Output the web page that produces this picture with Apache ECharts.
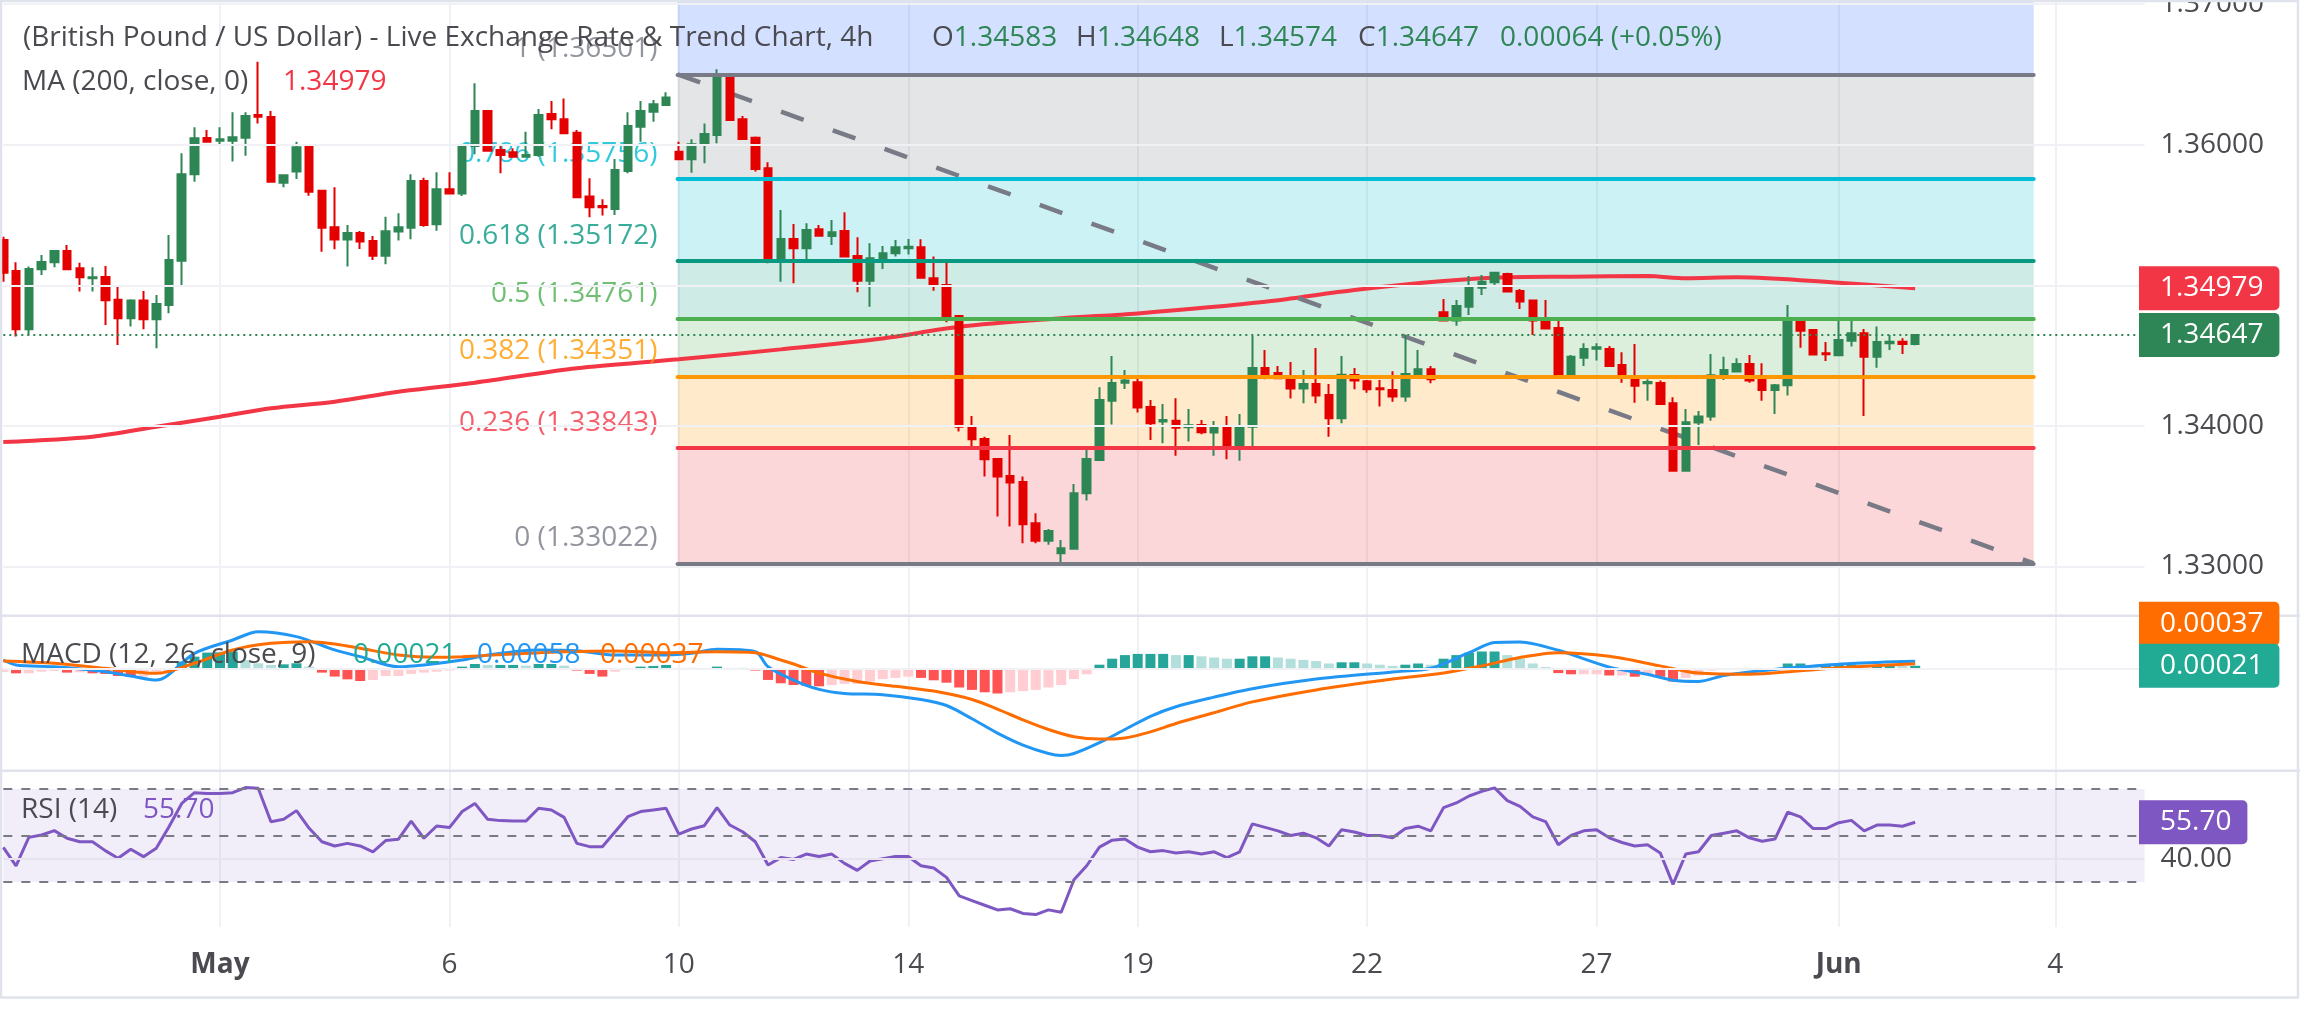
<!DOCTYPE html>
<html>
<head>
<meta charset="utf-8">
<script src="https://cdn.jsdelivr.net/npm/echarts@6/dist/echarts.min.js"></script>
<style>
  html, body { margin: 0; padding: 0; background: #fff; }
  #chart { width: 2300px; height: 1030px; }
</style>
</head>
<body>
<div id="chart"></div>
<script>
// ---- data ----
const slotCount = 169; // bars + empty space on the right
const dateIdx = [17, 35, 53, 71, 89, 107, 125, 144, 161];
const dateText = ['May', '6', '10', '14', '19', '22', '27', 'Jun', '4'];

const opens = [1.35322,1.35102,1.34687,1.35114,1.35164,1.35244,1.35121,1.35050,1.35059,1.34898,1.34765,1.34891,1.34758,1.34860,1.35175,1.35790,1.36048,1.36029,1.36029,1.36050,1.36212,1.36198,1.35730,1.35809,1.35984,1.35673,1.35413,1.35325,1.35372,1.35315,1.35211,1.35382,1.35410,1.35742,1.35434,1.35683,1.35654,1.35991,1.36240,1.35963,1.35946,1.35915,1.35927,1.36219,1.36181,1.36086,1.35631,1.35564,1.35543,1.35813,1.36129,1.36235,1.36283,1.35951,1.35896,1.35998,1.36069,1.36503,1.36181,1.36050,1.35832,1.35180,1.35330,1.35263,1.35398,1.35351,1.35386,1.35209,1.35033,1.35187,1.35228,1.35263,1.35270,1.35050,1.35002,1.34782,1.33999,1.33907,1.33764,1.33643,1.33601,1.33307,1.33183,1.33093,1.33126,1.33520,1.33757,1.34179,1.34307,1.34310,1.34134,1.34030,1.34037,1.33990,1.34006,1.33952,1.33999,1.33852,1.33994,1.34412,1.34376,1.34341,1.34265,1.34298,1.34220,1.34054,1.34362,1.34317,1.34267,1.34255,1.34208,1.34364,1.34402,1.34808,1.34749,1.34848,1.34983,1.35021,1.35081,1.34960,1.34891,1.34753,1.34696,1.34355,1.34485,1.34549,1.34547,1.34433,1.34345,1.34303,1.34305,1.34160,1.33681,1.34023,1.34066,1.34360,1.34386,1.34440,1.34326,1.34255,1.34288,1.34749,1.34682,1.34516,1.34502,1.34606,1.34658,1.34492,1.34587,1.34599,1.34583];
const highs = [1.35346,1.35164,1.35133,1.35216,1.35251,1.35287,1.35161,1.35128,1.35137,1.34995,1.34900,1.34960,1.34931,1.35358,1.35939,1.36124,1.36105,1.36124,1.36231,1.36231,1.36591,1.36240,1.35790,1.36022,1.35998,1.35678,1.35697,1.35429,1.35386,1.35351,1.35488,1.35512,1.35790,1.35766,1.35804,1.35804,1.35998,1.36437,1.36247,1.35998,1.35975,1.36093,1.36254,1.36311,1.36330,1.36105,1.35761,1.35612,1.35899,1.36231,1.36311,1.36318,1.36373,1.36022,1.36039,1.36152,1.36537,1.36510,1.36205,1.36058,1.35875,1.35536,1.35436,1.35441,1.35429,1.35465,1.35519,1.35341,1.35299,1.35280,1.35322,1.35330,1.35327,1.35204,1.35185,1.34789,1.34070,1.33923,1.33764,1.33935,1.33639,1.33378,1.33266,1.33188,1.33586,1.33845,1.34274,1.34497,1.34398,1.34345,1.34184,1.34156,1.34196,1.34120,1.34042,1.34035,1.34070,1.34085,1.34639,1.34540,1.34426,1.34454,1.34398,1.34554,1.34298,1.34497,1.34412,1.34326,1.34326,1.34388,1.34644,1.34540,1.34426,1.34903,1.34896,1.35066,1.35073,1.35097,1.35090,1.34974,1.34896,1.34896,1.34753,1.34504,1.34587,1.34587,1.34568,1.34523,1.34583,1.34331,1.34322,1.34203,1.34120,1.34106,1.34511,1.34492,1.34481,1.34504,1.34445,1.34298,1.34860,1.34758,1.34682,1.34597,1.34765,1.34753,1.34689,1.34706,1.34647,1.34623,1.34648];
const lows = [1.35026,1.34635,1.34647,1.35073,1.35128,1.35109,1.34955,1.34955,1.34718,1.34575,1.34706,1.34687,1.34552,1.34801,1.34990,1.35737,1.36015,1.35998,1.35880,1.35922,1.36152,1.35737,1.35697,1.35756,1.35638,1.35239,1.35256,1.35133,1.35258,1.35180,1.35149,1.35318,1.35327,1.35417,1.35389,1.35647,1.35635,1.35932,1.35951,1.35797,1.35911,1.35911,1.35915,1.36110,1.36077,1.35626,1.35484,1.35496,1.35500,1.35797,1.36022,1.36164,1.36278,1.35892,1.35801,1.35868,1.36010,1.36170,1.36034,1.35809,1.35156,1.35026,1.35014,1.35164,1.35353,1.35287,1.35204,1.34950,1.34848,1.35116,1.35204,1.35220,1.35054,1.34962,1.34737,1.33959,1.33852,1.33639,1.33354,1.33283,1.33164,1.33164,1.33153,1.33022,1.33126,1.33468,1.33752,1.34009,1.34262,1.34094,1.33900,1.33876,1.33788,1.33888,1.33940,1.33788,1.33762,1.33752,1.33840,1.34331,1.34331,1.34194,1.34160,1.34160,1.33923,1.34018,1.34260,1.34236,1.34137,1.34172,1.34172,1.34343,1.34303,1.34749,1.34713,1.34789,1.34931,1.34995,1.34955,1.34832,1.34647,1.34692,1.34350,1.34350,1.34426,1.34464,1.34419,1.34307,1.34165,1.34179,1.34151,1.33681,1.33674,1.33864,1.34037,1.34326,1.34386,1.34307,1.34179,1.34085,1.34215,1.34556,1.34507,1.34462,1.34502,1.34564,1.34070,1.34414,1.34540,1.34511,1.34574];
const closes = [1.35090,1.34687,1.35116,1.35166,1.35244,1.35114,1.35057,1.35057,1.34893,1.34765,1.34891,1.34758,1.34867,1.35180,1.35790,1.36046,1.36022,1.36039,1.36053,1.36205,1.36200,1.35737,1.35783,1.35982,1.35666,1.35410,1.35325,1.35372,1.35311,1.35211,1.35384,1.35413,1.35742,1.35429,1.35683,1.35654,1.35994,1.36240,1.35958,1.35927,1.35915,1.35927,1.36212,1.36181,1.36081,1.35626,1.35555,1.35555,1.35820,1.36133,1.36240,1.36288,1.36337,1.35896,1.36003,1.36077,1.36503,1.36176,1.36041,1.35828,1.35180,1.35330,1.35263,1.35394,1.35353,1.35377,1.35204,1.35033,1.35192,1.35228,1.35270,1.35275,1.35054,1.34998,1.34777,1.33994,1.33904,1.33762,1.33639,1.33596,1.33300,1.33183,1.33252,1.33129,1.33520,1.33764,1.34184,1.34305,1.34322,1.34130,1.34018,1.34042,1.33987,1.34004,1.33954,1.33999,1.33852,1.33999,1.34412,1.34369,1.34338,1.34265,1.34298,1.34215,1.34054,1.34364,1.34322,1.34260,1.34260,1.34208,1.34369,1.34402,1.34331,1.34749,1.34853,1.34986,1.35026,1.35090,1.34955,1.34884,1.34749,1.34692,1.34355,1.34492,1.34547,1.34559,1.34426,1.34343,1.34286,1.34312,1.34156,1.33681,1.34025,1.34066,1.34360,1.34398,1.34440,1.34322,1.34255,1.34288,1.34749,1.34677,1.34507,1.34509,1.34611,1.34658,1.34492,1.34597,1.34599,1.34583,1.34647];

// MA 200 read at sample bars
const maIdx = [0, 7, 12, 17, 21, 26, 31, 37, 45, 53, 61, 69, 75, 83, 89, 99, 106, 113, 118, 123, 129, 132, 136, 144, 150];
const maVal = [1.33885,1.33923,1.33994,1.34065,1.34125,1.34172,1.34243,1.34307,1.34409,1.34473,1.34544,1.34622,1.34705,1.34765,1.34800,1.34883,1.34966,1.35030,1.35057,1.35061,1.35066,1.35050,1.35057,1.35018,1.34979];

// fibonacci retracement
const fibRatios = [1.618, 1, 0.786, 0.618, 0.5, 0.382, 0.236, 0];
const fibPrices = [1.38651, 1.36501, 1.35756, 1.35172, 1.34761, 1.34351, 1.33843, 1.33022];
const fibStart = 52.9, fibEnd = 159.3;

// MACD (12, 26, close, 9)
const macdIdx = [0,1,4,8,10,12,15,18,20,23,26,28,31,33,36,38,42,45,48,52,54,56,59,60,62,64,66,69,72,74,76,78,80,82,83,84,86,88,90,92,95,98,103,109,112,115,117,119,122,126,129,131,133,135,138,141,145,150];
const macdVal = [0.00069,0.00028,0.00013,-0.00028,-0.00064,-0.00098,0.00125,0.00236,0.00305,0.00264,0.00153,0.00097,0.00013,0.00028,0.00069,0.00111,0.00153,0.00147,0.00111,0.00111,0.00125,0.00158,0.00138,0.00013,-0.00098,-0.00176,-0.0021,-0.0022,-0.0026,-0.0031,-0.0042,-0.0054,-0.0064,-0.0071,-0.00726,-0.0071,-0.0062,-0.0051,-0.0040,-0.0032,-0.0024,-0.0017,-0.0009,-0.0003,0.0000,0.0013,0.00215,0.0022,0.0015,0.0001,-0.0005,-0.0010,-0.0011,-0.0006,-0.0002,0.0001,0.0004,0.00058];
const signalIdx = [0,4,8,12,15,18,21,24,26,28,31,34,36,40,44,48,52,56,59,61,62,64,67,70,73,76,78,80,82,84,86,88,90,92,95,98,103,109,113,116,119,122,126,130,133,137,141,145,150];
const signalVal = [0.00061,0.00042,0,-0.00042,0.00042,0.00153,0.00208,0.00222,0.00203,0.00167,0.00111,0.00092,0.00097,0.00119,0.00138,0.00144,0.0013,0.00138,0.0013,0.00069,0.00036,-0.0004,-0.0011,-0.0015,-0.0019,-0.0026,-0.0034,-0.0043,-0.0051,-0.0057,-0.0059,-0.0058,-0.0053,-0.0046,-0.0037,-0.0028,-0.0018,-0.0009,-0.0004,0.0002,0.0009,0.0013,0.0010,0.0002,-0.0004,-0.0005,-0.0002,0.0001,0.00037];
const histVal = [-0.0003,-0.00042,-0.00042,-0.00028,-0.00022,-0.00036,-0.00033,-0.00042,-0.00047,-0.00064,-0.00069,-0.00069,-0.00028,-0.00022,0.00056,0.00097,0.00131,0.00133,0.00139,0.00069,0.00042,0.00028,0.00033,0.00042,0.00014,-0.00036,-0.00069,-0.00092,-0.00106,-0.00097,-0.00064,-0.00064,-0.00047,-0.00036,-0.00028,-0.00019,0.00014,0.00036,0.00028,0.00028,0.00028,0.00022,0.00036,0.00036,0.00022,-0.00019,-0.00047,-0.00069,-0.00028,-0.00014,0.00014,0.00019,0.00028,0.00003,0.00003,-0.00014,0.00014,0.00003,0.00003,-0.00019,-0.00097,-0.00125,-0.00139,
  -0.00145,-0.0015,-0.0014,-0.0013,-0.0013,-0.0011,-0.0009,-0.0008,-0.0007,-0.0008,-0.001,-0.0012,-0.0016,-0.0018,-0.0020,-0.0021,-0.0020,-0.0019,-0.0018,-0.0016,-0.0014,-0.0009,-0.0005,0.0003,0.0008,0.0011,0.0012,0.0012,0.0012,0.0011,0.0011,0.001,0.0009,0.0008,0.0008,0.001,0.001,0.0009,0.0008,0.0007,0.0006,0.0004,0.0005,0.0005,0.0004,0.0003,0.0002,0.0003,0.0004,0.0003,0.0008,0.0011,0.0013,0.0014,0.0014,0.0011,0.0008,0.0004,0.0001,-0.0004,-0.0005,-0.0005,-0.0005,-0.0006,-0.0006,-0.0007,-0.0006,-0.0007,-0.0011,-0.0008,-0.0006,-0.0002,-0.0001,0.00002,-0.0001,-0.0002,-0.0001,0.0004,0.0004,0.0002,0.0002,0.0003,0.0003,0.0001,0.0002,0.0002,0.00019,0.00021];

// RSI (14), one value per bar
const rsiVal = [44.9,36.9,49.2,50.2,52.1,48.8,47.3,47.3,43.5,40.2,44.1,40.9,44.5,53.8,63.8,68.4,68.1,68.1,68.4,70.6,70.3,55.9,57.0,60.7,53.1,47.3,45.5,46.6,45.5,43.0,47.8,48.4,56.2,48.8,54.1,53.4,60.3,63.8,57.0,56.4,56.2,56.2,61.7,61.0,57.8,46.6,45.2,45.2,51.6,58.1,60.3,61.0,61.7,50.6,52.8,54.2,62.0,54.5,51.6,47.3,37.3,40.5,39.7,
  42,41,42,38,35,39,40,41,41,37,36,32,24,22,20,18,18.5,16.5,16,18,17,31,37,45,48,48.5,45,43,43.5,42.5,43,42,43,40.5,43,55,53.5,52,50,51,49,45.5,52.5,51.5,50,50,49,53,54,52,62,64,67,69,70.5,65,62.5,58,56,46,50,52,52.5,49,47,45.5,46,42.5,29,42,43,50,51,52,49,47.5,48.5,60,58,53,53,55.5,56.5,52,54.5,54.5,54,55.7];

const maLast = 1.34979, macdLast = 0.00058, signalLast = 0.00037, histLast = 0.00021, rsiLast = 55.70;

// axis ranges of the three panes
const priceMin = 1.32654, priceMax = 1.37030;
const priceGridVals = [1.33, 1.34, 1.35, 1.36, 1.37];
const priceLabelVals = [1.33, 1.34, 1.36, 1.37];
const macdMin = -0.008475, macdMax = 0.004275;
const rsiMin = 10.645, rsiMax = 77.31;

// ---- chart ----
const FONT = "'Open Sans', sans-serif";
const TXT = '#4a4a50';
const UP = '#2d8654', DOWN = '#e50000';
const GRIDC = '#eff1f5';
const fibColors = ['#2962ff', '#787b86', '#00bcd4', '#089981', '#4caf50', '#ff9800', '#f23645', '#787b86'];

const slots = Array.from({ length: slotCount }, (_, i) => String(i));
const last = closes.length - 1;

const gridBox = { left: 3.3, width: 2141.3, containLabel: false, outerBoundsMode: 'none' };
const grids = [
  Object.assign({ top: 0, height: 615 }, gridBox),
  Object.assign({ top: 617, height: 153 }, gridBox),
  Object.assign({ top: 772, height: 155 }, gridBox)
];

function catAxis(g, withLabels) {
  return {
    type: 'category', gridIndex: g, data: slots, boundaryGap: false,
    axisLine: { show: false }, axisTick: { show: false },
    axisLabel: withLabels ? {
      interval: (i) => dateIdx.includes(i),
      formatter: (v) => {
        const t = dateText[dateIdx.indexOf(Number(v))];
        return /^[A-Z]/.test(t) ? '{m|' + t + '}' : t;
      },
      color: TXT, fontSize: 28, fontFamily: FONT, margin: 24,
      rich: { m: { fontWeight: 'bold', fontSize: 28, fontFamily: FONT, color: TXT } }
    } : { show: false },
    splitLine: { show: true, interval: (i) => dateIdx.includes(i), lineStyle: { color: GRIDC, width: 2 } }
  };
}
function valAxis(g) {
  return { type: 'value', gridIndex: g, min: 0, max: slotCount - 1, show: false };
}
function hLines(xi, yi, vals, color, type, z) {
  return {
    type: 'line', xAxisIndex: xi, yAxisIndex: yi, data: [], z: z || 0, silent: true,
    markLine: {
      silent: true, symbol: 'none', label: { show: false }, animation: false, precision: 6,
      lineStyle: { color: color, width: 2, type: type || 'solid' },
      data: vals.map(v => ({ yAxis: v }))
    }
  };
}
const pairs = (idx, val) => idx.map((k, i) => [k, val[i]]);

const fibLevels = fibPrices.map((p, i) => ({ p, i })).filter(o => o.p <= priceMax);
const fibBands = [];
for (let i = 0; i < fibPrices.length - 1; i++) {
  fibBands.push([
    { xAxis: fibStart, yAxis: Math.min(fibPrices[i], priceMax),
      itemStyle: { color: echarts.color.modifyAlpha(fibColors[i], 0.2) } },
    { xAxis: fibEnd, yAxis: fibPrices[i + 1] }
  ]);
}

const histData = histVal.map((v, i) => {
  const prev = i > 0 ? histVal[i - 1] : v;
  let c;
  if (v >= 0) c = v >= prev ? '#26a69a' : '#b2dfdb';
  else c = v < prev ? '#ff5252' : '#ffcdd2';
  return { value: v, itemStyle: { color: c } };
});

const chart = echarts.init(document.getElementById('chart'));
chart.setOption({
  animation: false,
  backgroundColor: '#ffffff',
  grid: grids,
  xAxis: [catAxis(0), valAxis(0), catAxis(1), valAxis(1), catAxis(2, true), valAxis(2)],
  yAxis: [
    {
      gridIndex: 0, type: 'value', position: 'right', min: priceMin, max: priceMax,
      axisLine: { show: false }, axisTick: { show: false }, splitLine: { show: false },
      axisLabel: { customValues: priceLabelVals, formatter: v => v.toFixed(5), color: TXT, fontSize: 28, fontFamily: FONT, margin: 16 }
    },
    {
      gridIndex: 1, type: 'value', position: 'right', min: macdMin, max: macdMax,
      axisLine: { show: false }, axisTick: { show: false }, splitLine: { show: false }, axisLabel: { show: false }
    },
    {
      gridIndex: 2, type: 'value', position: 'right', min: rsiMin, max: rsiMax,
      axisLine: { show: false }, axisTick: { show: false }, splitLine: { show: false },
      axisLabel: { customValues: [40], formatter: v => v.toFixed(2), color: TXT, fontSize: 28, fontFamily: FONT, margin: 16 }
    }
  ],
  series: [
    hLines(1, 0, priceGridVals, GRIDC),
    hLines(3, 1, [0], GRIDC),
    hLines(5, 2, [40], '#e6e3ee'),
    // last price, dotted
    hLines(1, 0, [closes[last]], UP, [2, 4], 3),
    // MA 200
    {
      type: 'line', xAxisIndex: 1, yAxisIndex: 0, z: 1, silent: true, showSymbol: false, smooth: 0.3,
      data: pairs(maIdx, maVal), lineStyle: { color: '#f23645', width: 4 }
    },
    // fib fills
    {
      type: 'line', xAxisIndex: 1, yAxisIndex: 0, z: 2, silent: true, showSymbol: false,
      data: [[fibStart, fibPrices[1]]], lineStyle: { width: 0 },
      markArea: { silent: true, animation: false, data: fibBands }
    },
    // fib levels + trend line
    {
      type: 'line', xAxisIndex: 1, yAxisIndex: 0, z: 3, silent: true, showSymbol: false,
      data: [[fibStart, fibPrices[1]], [fibEnd, fibPrices[fibPrices.length - 1]]],
      lineStyle: { color: '#787b86', width: 4.5, type: [24, 31] },
      markLine: {
        silent: true, symbol: 'none', label: { show: false }, animation: false, precision: 6,
        data: fibLevels.map(o => [
          { coord: [fibStart, o.p], lineStyle: { color: fibColors[o.i], width: 4, type: 'solid', cap: 'round' } },
          { coord: [fibEnd, o.p] }
        ])
      }
    },
    // fib labels
    {
      type: 'scatter', xAxisIndex: 1, yAxisIndex: 0, z: 3, silent: true, symbolSize: 0,
      data: fibLevels.map(o => ({
        value: [fibStart, o.p],
        label: { color: fibColors[o.i], formatter: fibRatios[o.i] + ' (' + o.p.toFixed(5) + ')' }
      })),
      label: { show: true, position: 'left', distance: 20, offset: [0, -25], fontSize: 28, fontFamily: FONT }
    },
    // candles
    {
      type: 'candlestick', xAxisIndex: 0, yAxisIndex: 0, z: 4, clip: false, silent: true,
      barWidth: 8,
      data: opens.map((o, i) => [o, closes[i], lows[i], highs[i]]),
      itemStyle: { color: UP, color0: DOWN, borderColor: UP, borderColor0: DOWN, borderWidth: 2 }
    },
    // MACD
    {
      type: 'bar', xAxisIndex: 2, yAxisIndex: 1, z: 2, silent: true, barWidth: 10, data: histData
    },
    {
      type: 'line', xAxisIndex: 3, yAxisIndex: 1, z: 3, silent: true, showSymbol: false, smooth: 0.3,
      data: pairs(macdIdx, macdVal), lineStyle: { color: '#2196f3', width: 3 }
    },
    {
      type: 'line', xAxisIndex: 3, yAxisIndex: 1, z: 3, silent: true, showSymbol: false, smooth: 0.3,
      data: pairs(signalIdx, signalVal), lineStyle: { color: '#ff6d00', width: 3 }
    },
    // RSI
    {
      type: 'line', xAxisIndex: 4, yAxisIndex: 2, z: 3, silent: true, showSymbol: false,
      data: rsiVal, lineStyle: { color: '#7e57c2', width: 3 },
      markArea: { silent: true, animation: false, itemStyle: { color: 'rgba(126,87,194,0.1)' }, data: [[{ yAxis: 70 }, { yAxis: 30 }]] },
      markLine: {
        silent: true, symbol: 'none', label: { show: false }, animation: false,
        lineStyle: { color: '#787b86', width: 2, type: [9, 9] },
        data: [{ yAxis: 70 }, { yAxis: 50 }, { yAxis: 30 }]
      }
    }
  ]
});

// ---- texts, value badges and frame ----
function txt(x, y, text, color) {
  return {
    type: 'text', x: x, y: y, z: 100, silent: true,
    style: { text: text, fill: color, fontSize: 28, fontFamily: FONT, verticalAlign: 'middle' }
  };
}
function kv(x, y, key, val) {
  return {
    type: 'text', x: x, y: y, z: 100, silent: true,
    style: {
      text: '{k|' + key + '}{v|' + val + '}', fontSize: 28, fontFamily: FONT, verticalAlign: 'middle',
      rich: { k: { fill: TXT, fontSize: 28, fontFamily: FONT }, v: { fill: UP, fontSize: 28, fontFamily: FONT } }
    }
  };
}
function badge(y, text, bg) {
  return {
    type: 'text', x: 2139, y: y, z: 110, silent: true,
    style: {
      text: text, fill: '#ffffff', fontSize: 28, fontFamily: FONT, verticalAlign: 'middle',
      backgroundColor: bg, padding: [3, 16, 3, 21], borderRadius: [0, 5, 5, 0], lineHeight: 38
    }
  };
}
const py = v => chart.convertToPixel({ yAxisIndex: 0 }, v);
const my = v => chart.convertToPixel({ yAxisIndex: 1 }, v);
const ry = v => chart.convertToPixel({ yAxisIndex: 2 }, v);

const chg = closes[last] - closes[last - 1];
const chgPct = chg / closes[last - 1] * 100;
const histY = my(histLast);

chart.setOption({
  graphic: [
    { type: 'line', z: 90, silent: true, shape: { x1: 0, y1: 615.7, x2: 2300, y2: 615.7 }, style: { stroke: '#e0e3eb', lineWidth: 2.5 } },
    { type: 'line', z: 90, silent: true, shape: { x1: 0, y1: 770.7, x2: 2300, y2: 770.7 }, style: { stroke: '#e0e3eb', lineWidth: 2.5 } },
    { type: 'rect', z: 90, silent: true, shape: { x: 1, y: 1, width: 2297, height: 996.5 }, style: { fill: 'none', stroke: '#e0e3eb', lineWidth: 2.5 } },

    txt(23, 38, '(British Pound / US Dollar) - Live Exchange Rate & Trend Chart, 4h', TXT),
    kv(932, 38, 'O', opens[last].toFixed(5)),
    kv(1076, 38, 'H', highs[last].toFixed(5)),
    kv(1219, 38, 'L', lows[last].toFixed(5)),
    kv(1358, 38, 'C', closes[last].toFixed(5)),
    txt(1500, 38, chg.toFixed(5) + ' (+' + chgPct.toFixed(2) + '%)', UP),

    txt(22, 82, 'MA (200, close, 0)', TXT),
    txt(283, 82, maLast.toFixed(5), '#f23645'),

    txt(21, 655, 'MACD (12, 26, close, 9)', TXT),
    txt(353, 655, histLast.toFixed(5), '#22ab94'),
    txt(477, 655, macdLast.toFixed(5), '#2196f3'),
    txt(600, 655, signalLast.toFixed(5), '#ff6d00'),

    txt(21, 810, 'RSI (14)', TXT),
    txt(143, 810, rsiLast.toFixed(2), '#7e57c2'),

    badge(py(maLast), maLast.toFixed(5), '#f23645'),
    badge(py(closes[last]), closes[last].toFixed(5), '#2e8555'),
    badge(histY - 42, signalLast.toFixed(5), '#ff6d00'),
    badge(histY, histLast.toFixed(5), '#22ab94'),
    badge(ry(rsiLast), rsiLast.toFixed(2), '#7e57c2')
  ]
});
</script>
</body>
</html>
